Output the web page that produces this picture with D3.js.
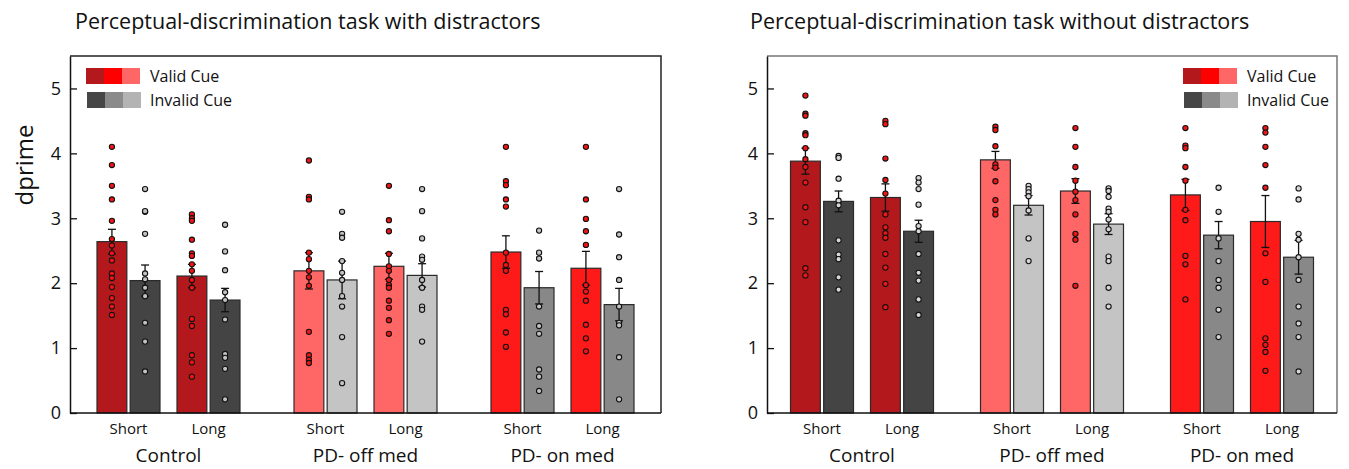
<!DOCTYPE html>
<html>
<head>
<meta charset="utf-8">
<script src="https://cdn.jsdelivr.net/npm/d3@7"></script>
<style>
  body { margin: 0; background: #fff; }
  text { font-family: "Open Sans", sans-serif; fill: #111; }
</style>
</head>
<body>
<svg id="chart" width="1349" height="469"></svg>
<script>
// categories
const groups = ["Control", "PD- off med", "PD- on med"];
const conds = ["Short", "Long"];
const cues = ["Valid", "Invalid"];
const yTicks = [0, 1, 2, 3, 4, 5];
const titles = ["Perceptual-discrimination task with distractors", "Perceptual-discrimination task without distractors"];

// order: group x cond x cue  (C-S-V, C-S-I, C-L-V, C-L-I, off..., on...)
const meanWith = [2.64, 2.04, 2.11, 1.74, 2.19, 2.05, 2.26, 2.12, 2.48, 1.93, 2.23, 1.67];
const seWith = [0.19, 0.24, 0.18, 0.18, 0.28, 0.29, 0.20, 0.18, 0.25, 0.25, 0.26, 0.25];
const dotsWith = [
  [4.10, 3.82, 3.50, 3.29, 2.96, 2.68, 2.58, 2.46, 2.35, 2.15, 2.08, 1.94, 1.77, 1.64, 1.51],
  [3.45, 3.10, 3.11, 2.76, 2.15, 2.06, 1.93, 1.80, 1.39, 1.10, 0.64],
  [3.06, 3.00, 2.96, 2.67, 2.46, 2.42, 2.29, 2.19, 2.05, 1.93, 1.45, 1.34, 0.89, 0.78, 0.56],
  [2.90, 2.49, 2.20, 1.86, 1.74, 1.44, 0.91, 0.85, 0.68, 0.21],
  [3.89, 3.33, 3.29, 2.47, 2.37, 2.19, 2.09, 1.96, 1.25, 0.89, 0.82, 0.77],
  [3.10, 2.76, 2.70, 2.34, 2.16, 2.05, 1.80, 1.64, 1.17, 0.46],
  [3.50, 2.97, 2.80, 2.45, 2.26, 2.19, 2.05, 1.97, 1.93, 1.73, 1.62, 1.43, 1.22],
  [3.45, 3.11, 2.69, 2.41, 2.36, 2.05, 1.93, 1.64, 1.59, 1.10],
  [4.10, 3.57, 3.51, 3.29, 3.18, 2.47, 2.28, 2.19, 1.59, 1.52, 1.24, 1.02],
  [2.81, 2.47, 2.38, 1.64, 1.34, 1.22, 0.67, 0.56, 0.34],
  [4.10, 3.29, 2.99, 2.80, 2.59, 1.97, 1.87, 1.73, 1.36, 1.15, 0.95],
  [3.45, 2.75, 2.40, 2.05, 1.64, 1.39, 1.35, 0.86, 0.21]
];

const meanWithout = [3.88, 3.26, 3.32, 2.80, 3.90, 3.20, 3.42, 2.91, 3.36, 2.74, 2.95, 2.40];
const seWithout = [0.20, 0.16, 0.21, 0.17, 0.13, 0.15, 0.19, 0.16, 0.24, 0.21, 0.40, 0.26];
const dotsWithout = [
  [4.89, 4.61, 4.58, 4.31, 4.28, 4.08, 3.91, 3.79, 3.55, 3.17, 2.94, 2.23, 2.12],
  [3.96, 3.93, 3.61, 3.27, 3.20, 2.66, 2.44, 2.37, 2.09, 1.90],
  [4.50, 4.45, 3.92, 3.59, 3.38, 3.06, 2.86, 2.77, 2.70, 2.45, 2.24, 1.99, 1.63],
  [3.62, 3.55, 3.45, 3.21, 2.88, 2.80, 2.45, 2.16, 2.04, 1.75, 1.51],
  [4.41, 4.36, 4.11, 3.83, 3.78, 3.57, 3.28, 3.13, 3.06],
  [3.50, 3.45, 3.40, 3.34, 3.12, 2.69, 2.34],
  [4.39, 4.10, 3.79, 3.58, 3.41, 3.28, 3.06, 2.76, 2.67, 1.96],
  [3.46, 3.42, 3.33, 3.15, 3.10, 2.98, 2.83, 2.41, 2.34, 1.93, 1.64],
  [4.39, 4.12, 4.08, 3.79, 3.58, 3.13, 2.97, 2.42, 2.29, 1.75],
  [3.47, 3.10, 2.69, 2.34, 2.05, 1.93, 1.59, 1.17],
  [4.39, 4.32, 4.10, 3.82, 3.47, 2.46, 2.02, 1.15, 1.05, 0.94, 0.65],
  [3.46, 3.29, 2.76, 2.67, 2.40, 2.05, 1.64, 1.38, 1.17, 0.64]
];

const validColors = ["#b3191c", "#ff6666", "#ff1a1a"];
const invalidColors = ["#444444", "#c4c4c4", "#888888"];
const legendValid = ["#b3191c", "#ff0000", "#ff6666"];
const legendInvalid = ["#464646", "#8a8a8a", "#b3b3b3"];

const svg = d3.select("#chart");

function rows(means, ses, dots) {
  const out = [];
  let i = 0;
  groups.forEach((g, gi) => conds.forEach(c => cues.forEach(cue => {
    out.push({group: g, gi: gi, cond: c, cue: cue, mean: means[i], se: ses[i], dots: dots[i]});
    i++;
  })));
  return out;
}

function drawPanel(opt, data) {
  const y = d3.scaleLinear().domain([0, 5.5]).range([413, 56]);
  const xg = d3.scaleBand().domain(groups).range([opt.left, opt.right]);
  const xc = d3.scalePoint().domain(conds).range([-40, 40]);
  const xq = d3.scaleBand().domain(cues).range([-31.5, 31.5]).paddingInner(0.1);
  const cx = d => xg(d.group) + xg.bandwidth() / 2 + xc(d.cond);
  const bx = d => cx(d) + xq(d.cue);
  const g = svg.append("g");

  g.append("text").attr("x", opt.titleX).attr("y", 29)
    .style("font-size", "21.5px").text(opt.title);

  // frame
  g.append("path")
    .attr("d", `M${opt.left},56H${opt.right}V413`)
    .attr("fill", "none").attr("stroke", opt.frame).attr("stroke-width", 1.5);

  g.selectAll(".bar").data(data).enter().append("rect")
    .attr("x", bx)
    .attr("y", d => y(d.mean))
    .attr("width", xq.bandwidth())
    .attr("height", d => y(0) - y(d.mean))
    .attr("fill", d => d.cue === "Valid" ? validColors[d.gi] : invalidColors[d.gi])
    .attr("stroke", "#2a2a2a").attr("stroke-width", 1.2);

  // error bars
  const eb = g.selectAll(".err").data(data).enter().append("g")
    .attr("stroke", "#111").attr("stroke-width", 1.3);
  const mid = d => bx(d) + xq.bandwidth() / 2;
  eb.append("line").attr("x1", mid).attr("x2", mid)
    .attr("y1", d => y(d.mean - d.se)).attr("y2", d => y(d.mean + d.se));
  eb.append("line").attr("x1", d => mid(d) - 4).attr("x2", d => mid(d) + 4)
    .attr("y1", d => y(d.mean + d.se)).attr("y2", d => y(d.mean + d.se));
  eb.append("line").attr("x1", d => mid(d) - 4).attr("x2", d => mid(d) + 4)
    .attr("y1", d => y(d.mean - d.se)).attr("y2", d => y(d.mean - d.se));

  // individual subjects
  data.forEach(d => {
    g.selectAll(null).data(d.dots).enter().append("circle")
      .attr("cx", mid(d))
      .attr("cy", v => y(v))
      .attr("r", 2.6)
      .attr("fill", d.cue === "Valid" ? "#f21414" : opt.dotFill)
      .attr("stroke", "#111").attr("stroke-width", 1.1);
  });

  // axes
  const ax = g.append("g").attr("transform", `translate(${opt.left},0)`)
    .call(d3.axisLeft(y).tickValues(yTicks).tickFormat(d3.format("d"))
      .tickSizeInner(-7).tickSizeOuter(0).tickPadding(9));
  ax.select(".domain").attr("stroke", "#111").attr("stroke-width", 1.5);
  ax.selectAll(".tick line").attr("stroke", "#111").attr("stroke-width", 1.3);
  ax.selectAll(".tick text").style("font-size", "18px").style("font-family", "Open Sans, sans-serif").attr("fill", "#111");

  g.append("line").attr("x1", opt.left).attr("x2", opt.right).attr("y1", 413).attr("y2", 413)
    .attr("stroke", "#111").attr("stroke-width", 1.5);

  // category labels
  groups.forEach(gr => {
    conds.forEach(c => {
      g.append("text").attr("x", xg(gr) + xg.bandwidth() / 2 + xc(c)).attr("y", 434)
        .attr("text-anchor", "middle").style("font-size", "15px").text(c);
    });
    g.append("text").attr("x", xg(gr) + xg.bandwidth() / 2).attr("y", 462)
      .attr("text-anchor", "middle").style("font-size", "19px").text(gr);
  });

  // legend
  const lg = g.append("g").attr("transform", `translate(${opt.legX},0)`);
  lg.selectAll(".lv").data(legendValid).enter().append("rect")
    .attr("x", (d, i) => i * 18).attr("y", 68).attr("width", 18).attr("height", 16).attr("fill", d => d);
  lg.selectAll(".li").data(legendInvalid).enter().append("rect")
    .attr("x", (d, i) => 1 + i * 18).attr("y", 92).attr("width", 18).attr("height", 16).attr("fill", d => d);
  lg.append("text").attr("x", 64).attr("y", 82).style("font-size", "16px").text("Valid Cue");
  lg.append("text").attr("x", 64).attr("y", 106).style("font-size", "16px").text("Invalid Cue");
}

drawPanel({left: 70, right: 661, titleX: 75, title: titles[0], frame: "#222", legX: 86, dotFill: "#c2c2c2"},
  rows(meanWith, seWith, dotsWith));
drawPanel({left: 767, right: 1337, titleX: 750, title: titles[1], frame: "#777", legX: 1183, dotFill: "#d6d6d6"},
  rows(meanWithout, seWithout, dotsWithout));

svg.append("text").attr("transform", "translate(33,165) rotate(-90)")
  .attr("text-anchor", "middle").style("font-size", "24px").text("dprime");
</script>
</body>
</html>
